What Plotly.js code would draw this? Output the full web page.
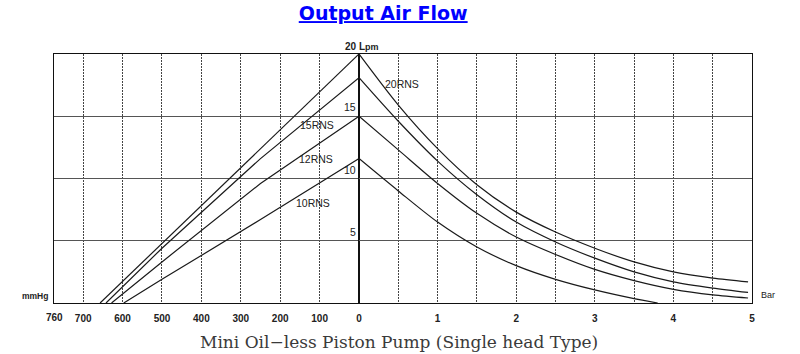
<!DOCTYPE html>
<html><head><meta charset="utf-8">
<script src="https://cdn.plot.ly/plotly-3.0.1.min.js"></script>
<style>body{margin:0;background:#fff}#chart{width:800px;height:354px}</style>
</head><body><div id="chart"></div>
<script>
// Axis tick labels
const vacTicks = [760, 700, 600, 500, 400, 300, 200, 100, 0];   // mmHg (vacuum side)
const barTicks = [1, 2, 3, 4, 5];                                 // Bar (pressure side)
const flowTicks = [5, 10, 15];                                    // Lpm
const flowTop = 20;

const seriesNames = ['20RNS', '15RNS', '12RNS', '10RNS'];

// Vacuum side (mmHg) -> flow (Lpm)
const vac20x = [0, 250, 500, 600, 657];
const vac20y = [20, 12.4, 4.8, 1.75, 0];
const vac15x = [0, 250, 500, 600, 642];
const vac15y = [18.1, 11.6, 4.4, 1.3, 0];
const vac12x = [0, 250, 500, 600, 628];
const vac12y = [15, 9.6, 3.3, 0.75, 0];
const vac10x = [0, 250, 500, 597];
const vac10y = [11.6, 6.7, 1.9, 0];

// Pressure side (Bar) -> flow (Lpm)
const barX   = [0, 0.5, 1, 1.5, 2, 2.5, 3, 3.5, 4, 4.5, 4.95];
const bar20y = [20, 15.9, 12.4, 9.5, 7.3, 5.7, 4.4, 3.3, 2.5, 2.0, 1.7];
const bar15y = [18.1, 14.6, 11.4, 8.7, 6.5, 4.9, 3.6, 2.5, 1.7, 1.2, 0.85];
const bar12y = [15, 12.3, 9.6, 7.2, 5.3, 3.9, 2.7, 1.8, 1.1, 0.65, 0.4];
const bar10x = [0, 0.5, 1, 1.5, 2, 2.5, 3, 3.5, 3.8];
const bar10y = [11.6, 9.0, 6.5, 4.5, 3.0, 1.9, 1.05, 0.35, 0];

const vacX = [vac20x, vac15x, vac12x, vac10x];
const vacY = [vac20y, vac15y, vac12y, vac10y];
const barXs = [barX, barX, barX, bar10x];
const barYs = [bar20y, bar15y, bar12y, bar10y];

const lineStyle = {color: '#1a1a1a', width: 1.2};
const traces = [];
seriesNames.forEach((name, i) => {
  traces.push({x: vacX[i], y: vacY[i], xaxis: 'x', yaxis: 'y', type: 'scatter', mode: 'lines',
    name: name, line: lineStyle, showlegend: false, hoverinfo: 'skip'});
  traces.push({x: barXs[i], y: barYs[i], xaxis: 'x2', yaxis: 'y2', type: 'scatter', mode: 'lines',
    name: name, line: Object.assign({shape: 'spline', smoothing: 0.8}, lineStyle), showlegend: false, hoverinfo: 'skip'});
});

const tickFont = {family: 'Liberation Sans, Arial, sans-serif', size: 10, color: '#222', weight: 'bold'};
const splitDom = 0.437;
const vGrid = {showgrid: true, gridcolor: '#444', griddash: '2px,1px', gridwidth: 1};

const yCommon = {
  range: [0, flowTop], tickmode: 'array', tickvals: flowTicks, showticklabels: false,
  showgrid: true, gridcolor: '#555', gridwidth: 1, zeroline: false,
  showline: true, mirror: true, linecolor: '#111', linewidth: 1.2, ticks: ''
};

const annotations = [];
// 760 label at the left border
annotations.push({xref: 'paper', yref: 'paper', x: 0, y: 0, yshift: -14, text: String(vacTicks[0]),
  showarrow: false, font: tickFont, xanchor: 'center', yanchor: 'middle'});
// Flow labels on centre line
const flowLblFont = {family: 'Liberation Sans, Arial, sans-serif', size: 10.5, color: '#222'};
flowTicks.forEach(v => annotations.push({xref: 'x2', yref: 'y2', x: 0, y: v, text: String(v),
  showarrow: false, font: flowLblFont, xanchor: 'right', yanchor: 'bottom', xshift: -1, yshift: 1}));
annotations.push({xref: 'x2', yref: 'paper', x: 0, y: 1, yshift: 8, xshift: 3, text: flowTop + ' L<span style="font-size:9px">pm</span>',
  showarrow: false, font: tickFont, xanchor: 'center', yanchor: 'middle'});
annotations.push({xref: 'paper', yref: 'paper', x: -0.027, y: 0.028, text: 'mmHg',
  showarrow: false, font: {family: 'Liberation Sans, Arial, sans-serif', size: 8.5, color: '#222', weight: 'bold'}, xanchor: 'center', yanchor: 'middle'});
annotations.push({xref: 'paper', yref: 'paper', x: 1.023, y: 0.032, text: 'Bar',
  showarrow: false, font: {family: 'Liberation Sans, Arial, sans-serif', size: 9, color: '#222'}, xanchor: 'center', yanchor: 'middle'});
// Series labels
const lblFont = {family: 'Liberation Sans, Arial, sans-serif', size: 10.5, color: '#222'};
annotations.push({xref: 'x2', yref: 'y2', x: 0.55, y: 17.6, text: seriesNames[0], showarrow: false, font: lblFont});
annotations.push({xref: 'x', yref: 'y', x: 107, y: 14.3, text: seriesNames[1], showarrow: false, font: lblFont});
annotations.push({xref: 'x', yref: 'y', x: 110, y: 11.6, text: seriesNames[2], showarrow: false, font: lblFont});
annotations.push({xref: 'x', yref: 'y', x: 117, y: 8.0, text: seriesNames[3], showarrow: false, font: lblFont});
// Bottom caption
annotations.push({xref: 'paper', yref: 'paper', x: 0.494, y: -0.157, text: 'Mini Oil\u2212less Piston Pump (Single head Type)',
  showarrow: false, font: {family: 'DejaVu Serif, serif', size: 17, color: '#3a3a3a'}, xanchor: 'center', yanchor: 'middle'});

const layout = {
  width: 800, height: 354,
  margin: {l: 54, r: 48, t: 54, b: 51},
  paper_bgcolor: '#fff', plot_bgcolor: '#fff',
  showlegend: false,
  title: {text: '<b><u>Output Air Flow</u></b>', xref: 'container', yref: 'container', x: 0.479, y: 0.962,
    xanchor: 'center', yanchor: 'middle', font: {family: 'DejaVu Sans, Verdana, sans-serif', size: 19, color: '#0000ff'}},
  xaxis: Object.assign({
    domain: [0, splitDom], range: [774, 0], tickmode: 'array',
    tickvals: vacTicks.slice(1), ticktext: vacTicks.slice(1).map(String),
    zeroline: false, showline: true, mirror: true, linecolor: '#111', linewidth: 1.2,
    ticks: '', tickfont: tickFont, ticklabelstandoff: 6
  }, vGrid),
  xaxis2: Object.assign({
    domain: [splitDom, 1], range: [0, 5], tickmode: 'array',
    tickvals: barTicks, ticktext: barTicks.map(String),
    minor: Object.assign({dtick: 0.5, tick0: 0, ticks: ''}, vGrid),
    zeroline: false, showline: true, mirror: true, linecolor: '#111', linewidth: 1.2,
    ticks: '', tickfont: tickFont, ticklabelstandoff: 6
  }, vGrid),
  yaxis: Object.assign({anchor: 'x'}, yCommon),
  yaxis2: Object.assign({anchor: 'x2', matches: 'y'}, yCommon),
  annotations: annotations
};

Plotly.newPlot('chart', traces, layout, {displayModeBar: false, staticPlot: true});
</script>
</body></html>
